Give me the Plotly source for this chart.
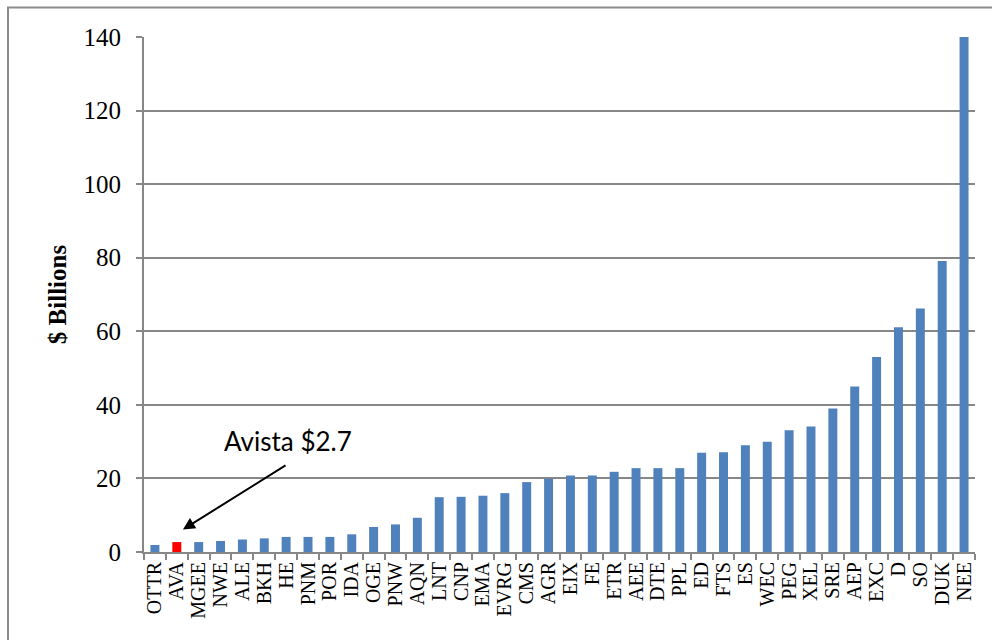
import plotly.graph_objects as go

tickers = ["OTTR", "AVA", "MGEE", "NWE", "ALE", "BKH", "HE", "PNM", "POR", "IDA",
           "OGE", "PNW", "AQN", "LNT", "CNP", "EMA", "EVRG", "CMS", "AGR", "EIX",
           "FE", "ETR", "AEE", "DTE", "PPL", "ED", "FTS", "ES", "WEC", "PEG",
           "XEL", "SRE", "AEP", "EXC", "D", "SO", "DUK", "NEE"]
market_cap = [1.9, 2.7, 2.7, 3.0, 3.4, 3.7, 4.1, 4.1, 4.1, 4.8,
              6.8, 7.5, 9.3, 14.9, 15.0, 15.3, 16.0, 19.0, 19.9, 20.8,
              20.8, 21.8, 22.8, 22.8, 22.8, 27.0, 27.1, 29.0, 30.0, 33.1,
              34.1, 39.0, 45.0, 53.0, 61.1, 66.2, 79.1, 141.0]
highlight = "AVA"
y_ticks = [0, 20, 40, 60, 80, 100, 120, 140]

colors = ["#FF0000" if t == highlight else "#4F81BD" for t in tickers]

fig = go.Figure()
fig.add_trace(go.Bar(x=tickers, y=market_cap, marker=dict(color=colors, line=dict(width=0)),
                     showlegend=False))

grey = "#878787"
serif = "Liberation Serif"

fig.update_layout(
    width=992, height=640,
    margin=dict(l=144, r=17, t=37, b=88),
    paper_bgcolor="white", plot_bgcolor="white",
    bargap=0.59,
    font=dict(family=serif, color="black"),
)
fig.update_xaxes(
    type="category", tickmode="array", tickvals=tickers, ticktext=tickers,
    tickangle=-90, tickfont=dict(family=serif, size=20, color="black"),
    showgrid=False, showline=True, linecolor=grey, linewidth=2,
    ticks="outside", tickson="boundaries", ticklen=6, tickcolor=grey, tickwidth=2,
    range=[-0.5, len(tickers) - 0.5],
)
fig.update_yaxes(
    range=[0, 140], tickvals=y_ticks, tickfont=dict(family=serif, size=25, color="black"),
    ticklabelstandoff=10,
    showgrid=True, gridcolor=grey, gridwidth=2,
    showline=True, linecolor=grey, linewidth=2,
    ticks="outside", ticklen=6, tickcolor=grey, tickwidth=2,
    zeroline=False,
    title=dict(text="<b>$ Billions</b>", font=dict(family=serif, size=25, color="black"), standoff=10),
)

# arrow
fig.add_annotation(x=1.28, y=6.1, xref="x", yref="y", ax=6.04, ay=23.8, axref="x", ayref="y",
                   text="", showarrow=True, arrowhead=2, arrowsize=1.2, arrowwidth=2,
                   arrowcolor="black")
# label
fig.add_annotation(x=6.1, y=30.2, xref="x", yref="y", text="Avista $2.7", showarrow=False,
                   font=dict(family="Lato", size=26, color="black"))

# outer border
fig.add_shape(type="rect", xref="paper", yref="paper",
              x0=(8 - 144) / 831, x1=(1000 - 144) / 831,
              y0=(552 - 660) / 515, y1=(552 - 7.5) / 515,
              line=dict(color="#8a8a8a", width=2), fillcolor="rgba(0,0,0,0)", layer="below")

fig.write_html("out.html")
